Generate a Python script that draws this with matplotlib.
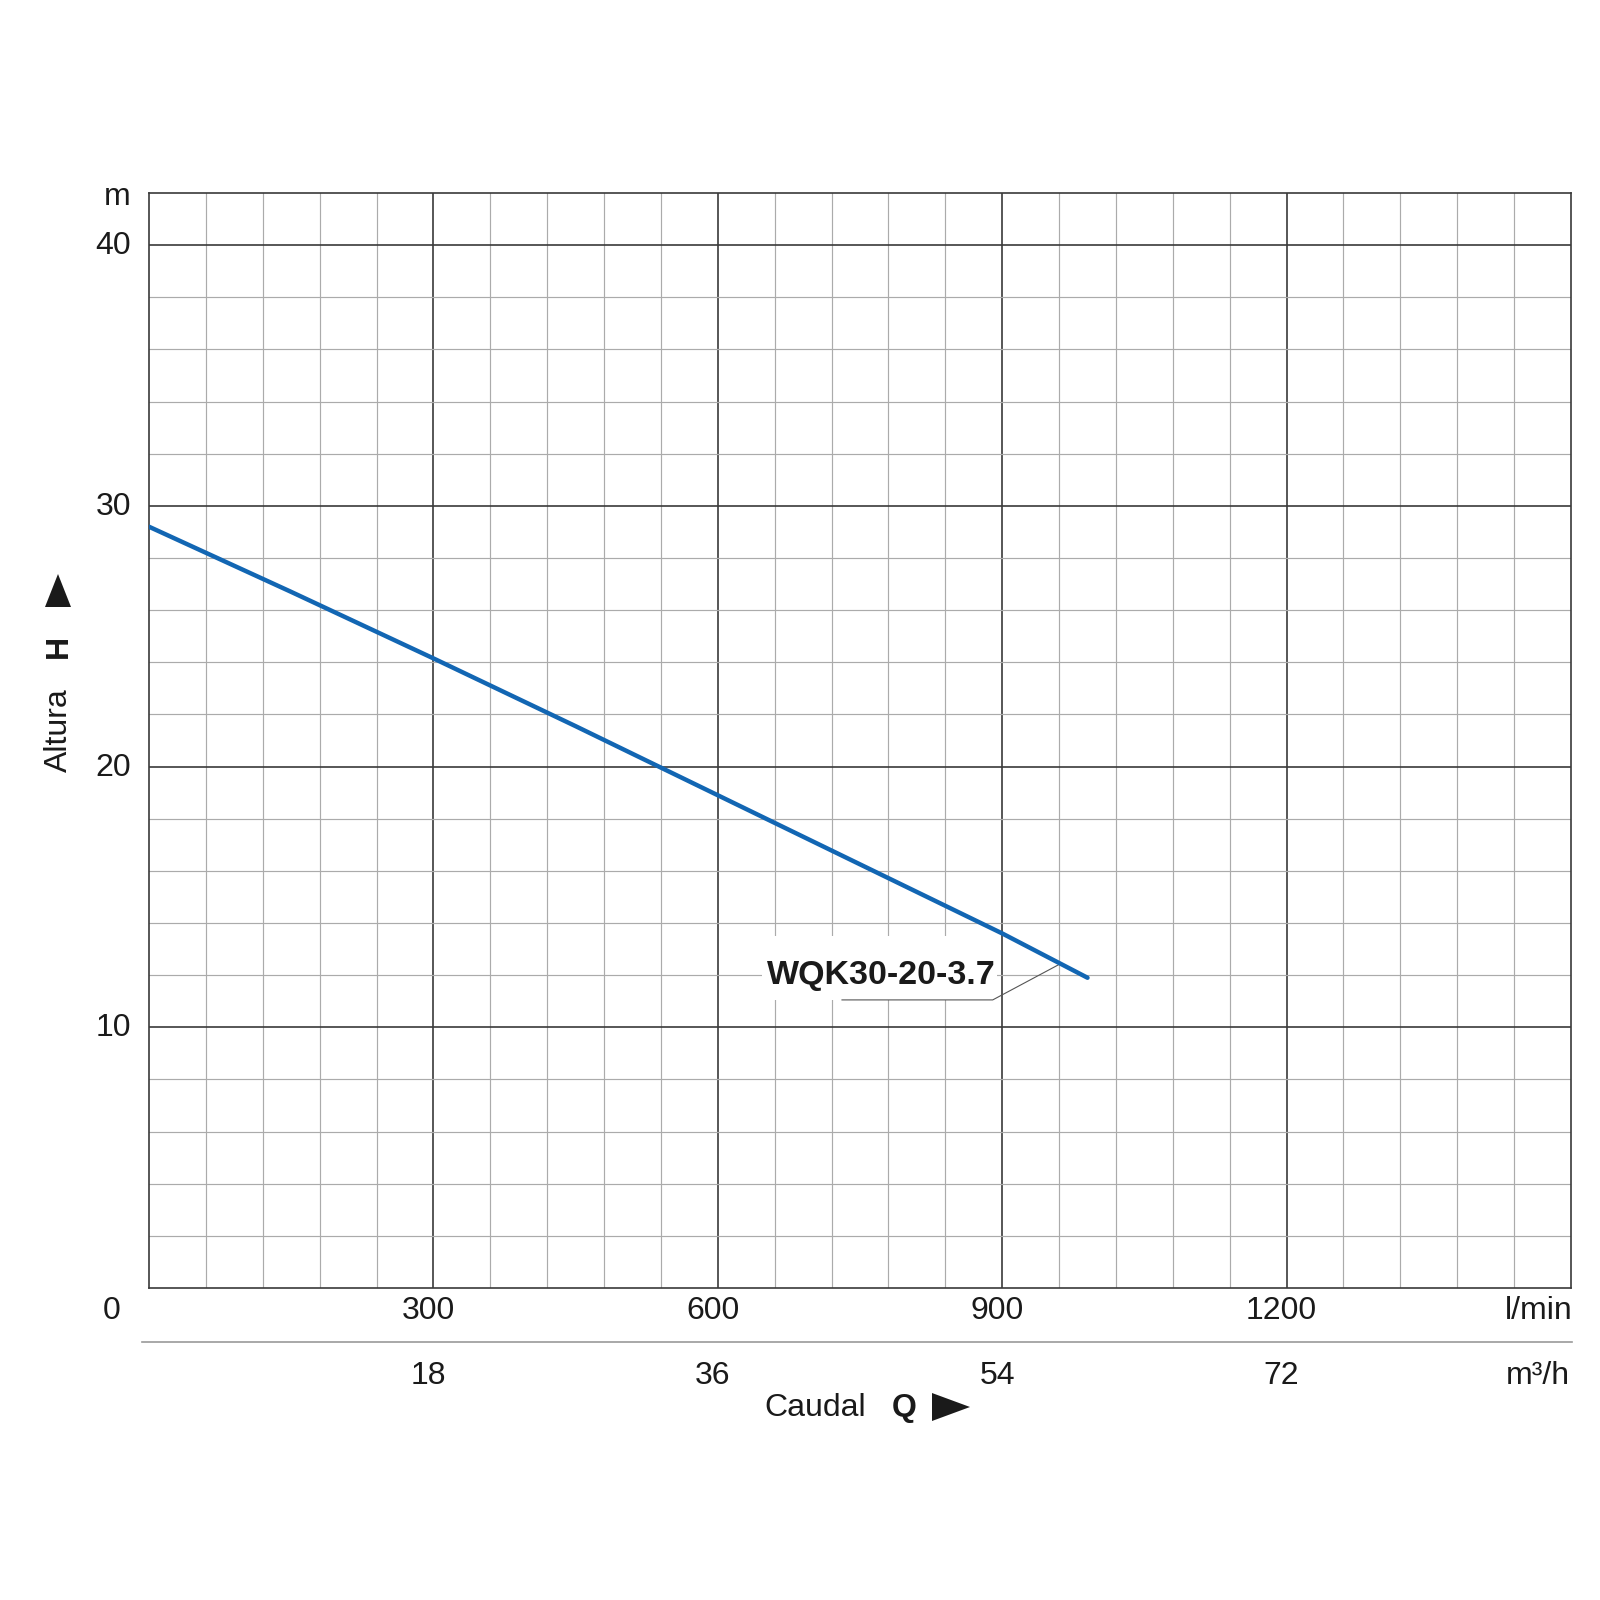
import matplotlib.pyplot as plt
from matplotlib.patches import Polygon, Rectangle
from matplotlib.lines import Line2D
import numpy as np

plt.rcParams['font.family'] = ['Liberation Sans', 'DejaVu Sans']

# pump curve WQK30-20-3.7
flow_lmin = [0, 150, 300, 450, 600, 750, 900, 990]
head_m = [29.2, 26.7, 24.15, 21.55, 18.9, 16.25, 13.6, 11.9]
curve_name = 'WQK30-20-3.7'

x_ticks = [300, 600, 900, 1200]
x_ticks_m3h = ['18', '36', '54', '72']
y_ticks = [10, 20, 30, 40]

W = 1600.0
def fx(px):
    return px / W
def fy(py):
    return 1 - py / W

FS = 23
TXT = '#1a1a1a'

fig = plt.figure(figsize=(16, 16), dpi=100, facecolor='white')
ax = fig.add_axes([fx(149), fy(1288), (1571 - 149) / W, (1288 - 193) / W])

ax.set_xlim(0, 1500)
ax.set_ylim(0, 42)

# grid
for x in np.arange(60, 1500, 60):
    major = x % 300 == 0
    ax.axvline(x, color='#3a3a3a' if major else '#ababab',
               lw=1.2 if major else 0.85, zorder=1)
for y in np.arange(2, 42, 2):
    major = y % 10 == 0
    ax.axhline(y, color='#3a3a3a' if major else '#ababab',
               lw=1.2 if major else 0.85, zorder=1)

for s in ax.spines.values():
    s.set_color('#3a3a3a')
    s.set_linewidth(1.2)
ax.set_xticks([])
ax.set_yticks([])

# curve
ax.plot(flow_lmin, head_m, color='#1266b3', lw=3.2, solid_capstyle='round', zorder=4)

# curve label with leader line
ax.add_patch(Rectangle((647, 11.05), 248, 2.45, facecolor='white', edgecolor='none', zorder=2))
ax.plot([731, 890, 959], [11.05, 11.05, 12.39], color='#555555', lw=0.8, zorder=3)
ax.text(772, 11.98, curve_name, fontsize=24.5, fontweight='bold', color=TXT,
        ha='center', va='center', zorder=5)

# y tick labels
for y in y_ticks:
    yp = 1288 - y * 26.07
    fig.text(fx(131), fy(yp + 1), str(y), fontsize=FS, ha='right', va='center', color=TXT)
fig.text(fx(131), fy(197), 'm', fontsize=FS, ha='right', va='center', color=TXT)
fig.text(fx(112), fy(1311), '0', fontsize=FS, ha='center', va='center', color=TXT)

# x tick labels (l/min and m3/h)
for x, lab in zip(x_ticks, x_ticks_m3h):
    xp = 149 + x / 1500 * 1422 - 5
    fig.text(fx(xp), fy(1311), str(x), fontsize=FS, ha='center', va='center', color=TXT)
    fig.text(fx(xp), fy(1376), lab, fontsize=FS, ha='center', va='center', color=TXT)
fig.text(fx(1573), fy(1311), 'l/min', fontsize=FS, ha='right', va='center', color=TXT)
fig.text(fx(1570), fy(1376), 'm³/h', fontsize=FS, ha='right', va='center', color=TXT)

fig.add_artist(Line2D([fx(142), fx(1572)], [fy(1342), fy(1342)], color='#9a9a9a', lw=1.2))

# axis titles
fig.text(fx(764), fy(1408), 'Caudal', fontsize=FS, ha='left', va='center', color=TXT)
fig.text(fx(904), fy(1408), 'Q', fontsize=FS, fontweight='bold', ha='center', va='center', color=TXT)
fig.add_artist(Polygon([[fx(932), fy(1393)], [fx(932), fy(1421)], [fx(970), fy(1407)]],
                       closed=True, facecolor=TXT, edgecolor='none', transform=fig.transFigure))

fig.text(fx(59), fy(730), 'Altura', fontsize=FS, rotation=90, ha='center', va='center', color=TXT)
fig.text(fx(59), fy(646), 'H', fontsize=FS, fontweight='bold', rotation=90, ha='center', va='center', color=TXT)
fig.add_artist(Polygon([[fx(45), fy(607)], [fx(71), fy(607)], [fx(58), fy(574)]],
                       closed=True, facecolor=TXT, edgecolor='none', transform=fig.transFigure))

fig.savefig('out.png', dpi=100, facecolor='white')
